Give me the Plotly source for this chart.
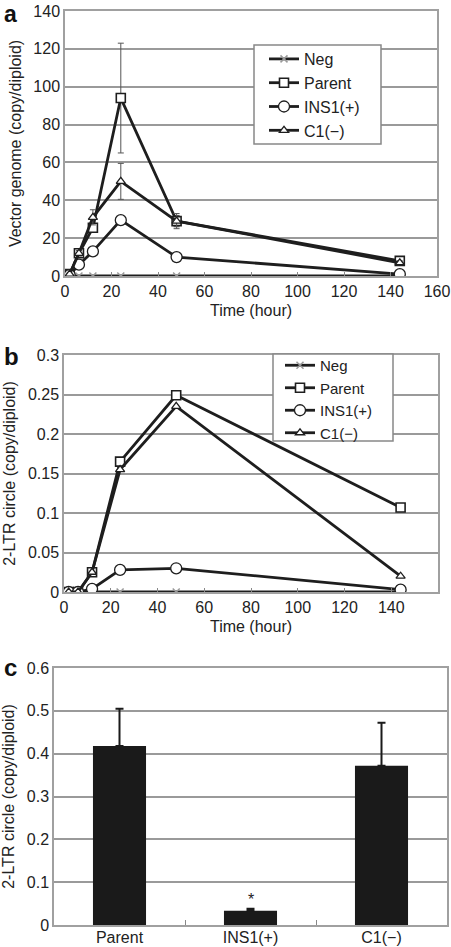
import plotly.graph_objects as go

# ---------------- data ----------------
time_h = [2, 6, 12, 24, 48, 144]

# panel a: vector genome (copy/diploid)
a_neg = [0, 0, 0, 0, 0, 0]
a_parent = [1, 12, 25.5, 94, 29, 8]
a_parent_err = [0.5, 1.5, 2, 29, 3, 1]
a_ins1 = [0.5, 6, 13, 29.5, 10, 1]
a_ins1_err = [0.3, 1, 1, 1.5, 0.8, 0.3]
a_c1 = [1, 12, 31, 50, 29, 7]
a_c1_err = [0.5, 1.5, 4, 9.5, 4, 1]

# panel b: 2-LTR circle (copy/diploid)
b_neg = [0, 0, 0, 0, 0, 0]
b_parent = [0, 0, 0.025, 0.165, 0.249, 0.107]
b_ins1 = [0, 0, 0.004, 0.028, 0.030, 0.003]
b_c1 = [0, 0, 0.025, 0.155, 0.235, 0.02]

# panel c: bar chart
c_groups = ["Parent", "INS1(+)", "C1(\u2212)"]
c_values = [0.418, 0.033, 0.372]
c_err = [0.087, 0.005, 0.10]

series_names = ["Neg", "Parent", "INS1(+)", "C1(\u2212)"]

# ---------------- styles ----------------
LINE = "#1e1e1e"
GRID = "#9a9a9a"
FONT = "Liberation Sans, Arial, sans-serif"
FS = 16

marker_styles = {
    "Neg": dict(symbol="x-thin", size=7, color="#9a9a9a", line=dict(color="#9a9a9a", width=1.5)),
    "Parent": dict(symbol="square", size=9, color="white", line=dict(color=LINE, width=1.6)),
    "INS1(+)": dict(symbol="circle", size=11, color="white", line=dict(color=LINE, width=1.3)),
    "C1(\u2212)": dict(symbol="triangle-up", size=8, color="white", line=dict(color=LINE, width=1.3)),
}

fig = go.Figure()

# panel a
a_vals = [a_neg, a_parent, a_ins1, a_c1]
a_errs = [None, a_parent_err, a_ins1_err, a_c1_err]
for name, vals, err in zip(series_names, a_vals, a_errs):
    fig.add_trace(go.Scatter(
        x=time_h, y=vals, name=name, mode="lines+markers",
        line=dict(color=LINE, width=2.8),
        marker=marker_styles[name],
        error_y=(dict(type="data", array=err, color="#555", thickness=1, width=3)
                 if err is not None else dict(visible=False)),
        xaxis="x", yaxis="y", legend="legend",
    ))

# panel b
b_vals = [b_neg, b_parent, b_ins1, b_c1]
for name, vals in zip(series_names, b_vals):
    fig.add_trace(go.Scatter(
        x=time_h, y=vals, name=name, mode="lines+markers",
        line=dict(color=LINE, width=2.8),
        marker=marker_styles[name],
        xaxis="x2", yaxis="y2", legend="legend2",
    ))

# panel c
fig.add_trace(go.Bar(
    x=c_groups, y=c_values, width=0.405,
    marker=dict(color="#1a1a1a", line=dict(width=0)),
    error_y=dict(type="data", symmetric=False, array=c_err,
                 arrayminus=[0, 0, 0], color="#1a1a1a", thickness=2, width=4),
    xaxis="x3", yaxis="y3", showlegend=False,
))

W, H = 451, 947

def dom_x(l, r):
    return [l / W, r / W]

def dom_y(top, bottom):
    return [1 - bottom / H, 1 - top / H]

def legend_box(l, t, r, b):
    return dict(type="rect", xref="paper", yref="paper",
                x0=l / W, x1=r / W, y0=1 - b / H, y1=1 - t / H,
                fillcolor="white", line=dict(color="#888", width=1.5), layer="above")

tickfont = dict(family=FONT, size=FS, color="#222")
titlefont = dict(family=FONT, size=FS, color="#222")

common_axis = dict(
    showline=True, linecolor="#a0a0a0", linewidth=1.5, mirror=True,
    tickfont=tickfont, zeroline=False, automargin=False,
)

fig.update_layout(
    template="none",
    width=W, height=H,
    margin=dict(l=0, r=0, t=0, b=0, autoexpand=False),
    paper_bgcolor="white", plot_bgcolor="white",
    font=dict(family=FONT, color="#222"),
    xaxis=dict(domain=dom_x(65, 437), range=[0, 160], dtick=20, anchor="y",
               showgrid=False, ticks="inside", ticklen=4, tickcolor="#888",
               title=dict(text="Time (hour)", font=titlefont, standoff=6), **common_axis),
    yaxis=dict(domain=dom_y(11, 276), range=[0, 140], dtick=20, anchor="x",
               showgrid=True, gridcolor=GRID, gridwidth=1.5, ticks="",
               title=dict(text="Vector genome (copy/diploid)", font=titlefont, standoff=8),
               **common_axis),
    xaxis2=dict(domain=dom_x(64, 438), range=[0, 160], dtick=20, anchor="y2",
                showgrid=False, ticks="inside", ticklen=4, tickcolor="#888",
                title=dict(text="Time (hour)", font=titlefont, standoff=6), **common_axis),
    yaxis2=dict(domain=dom_y(355, 592), range=[0, 0.3], dtick=0.05, anchor="x2",
                showgrid=True, gridcolor=GRID, gridwidth=1.5, ticks="",
                title=dict(text="2-LTR circle (copy/diploid)", font=titlefont, standoff=8),
                **common_axis),
    xaxis3=dict(domain=dom_x(54, 447), anchor="y3", showgrid=False,
                ticks="inside", tickson="boundaries", ticklen=5, tickcolor="#888",
                ticklabelstandoff=-3,
                **common_axis),
    yaxis3=dict(domain=dom_y(668, 925), range=[0, 0.6], dtick=0.1, anchor="x3",
                showgrid=True, gridcolor=GRID, gridwidth=1.5, ticks="",
                title=dict(text="2-LTR circle (copy/diploid)", font=titlefont, standoff=8),
                **common_axis),
    legend=dict(x=264 / W, y=1 - 42 / H, xanchor="left", yanchor="top",
                bgcolor="rgba(0,0,0,0)", borderwidth=0,
                font=dict(family=FONT, size=FS, color="#222"),
                tracegroupgap=0),
    legend2=dict(x=280 / W, y=1 - 349 / H, xanchor="left", yanchor="top",
                 bgcolor="rgba(0,0,0,0)", borderwidth=0,
                 font=dict(family=FONT, size=15, color="#222"),
                 tracegroupgap=0),
    shapes=[legend_box(254, 45, 381, 144), legend_box(273, 354, 393, 441)],
    annotations=[
        dict(text="<b>a</b>", x=3 / W, y=1, xref="paper", yref="paper",
             xanchor="left", yanchor="top", showarrow=False, borderpad=0,
             font=dict(family=FONT, size=23, color="#111")),
        dict(text="<b>b</b>", x=2 / W, y=1 - 356 / H, xref="paper", yref="paper",
             xanchor="left", yanchor="middle", showarrow=False,
             font=dict(family=FONT, size=24, color="#111")),
        dict(text="<b>c</b>", x=2 / W, y=1 - 667 / H, xref="paper", yref="paper",
             xanchor="left", yanchor="middle", showarrow=False,
             font=dict(family=FONT, size=24, color="#111")),
        dict(text="*", x="INS1(+)", y=0.059, xref="x3", yref="y3",
             xanchor="center", yanchor="middle", showarrow=False,
             font=dict(family=FONT, size=FS, color="#222")),
    ],
)

fig.write_html("out.html", config={"displayModeBar": False},
               post_script="document.body.style.margin='0';document.body.style.overflow='hidden';")
